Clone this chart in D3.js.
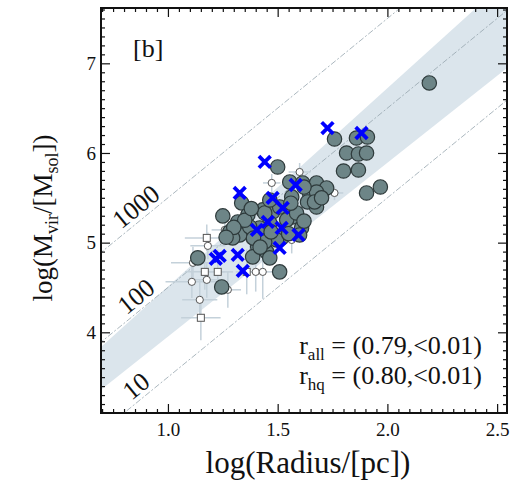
<!DOCTYPE html>
<html>
<head>
<meta charset="utf-8">
<script src="https://cdn.jsdelivr.net/npm/d3@7"></script>
<style>
body { margin: 0; background: #fff; }
text { font-family: "Liberation Serif", "Times New Roman", serif; fill: #111; }
</style>
</head>
<body>
<div id="chart"></div>
<script>
// clouds (all)
var grayPts = [
  [2.191,6.781],[1.759,6.156],[1.859,6.167],[1.909,6.178],[1.814,6.000],[1.868,5.989],
  [1.905,6.000],[1.800,5.799],[1.868,5.810],[1.905,5.554],[1.968,5.621],[1.500,5.844],
  [1.555,5.677],[1.614,5.666],[1.677,5.666],[1.723,5.610],[1.645,5.554],[1.677,5.565],
  [1.636,5.454],[1.677,5.398],[1.564,5.510],[1.568,5.287],[1.609,5.164],[1.336,5.443],
  [1.250,5.298],[1.318,5.231],[1.364,5.309],[1.432,5.365],[1.477,5.342],[1.464,5.220],
  [1.282,5.120],[1.327,5.086],[1.295,5.053],[1.405,5.142],[1.409,4.953],[1.450,4.897],
  [1.386,4.841],[1.464,4.830],[1.518,5.053],[1.600,5.086],[1.136,4.830],[1.509,4.674],
  [1.245,4.506],[1.668,5.454],[1.509,5.398],[1.441,5.331],[1.541,5.254],[1.418,5.164],
  [1.373,5.175],[1.495,5.030],[1.441,5.008],[1.586,5.331],[1.464,5.476],
  [1.350,5.250],[1.390,5.050],[1.300,5.170],[1.470,5.120],[1.560,5.440],[1.620,5.620],
  [1.700,5.500],[1.550,5.100],[1.420,4.950],[1.265,5.060],[1.380,5.380],[1.620,5.240]
];
// high quality subsample
var hqPts = [
  [1.727,6.278],[1.882,6.223],[1.441,5.900],[1.327,5.554],[1.582,5.643],[1.477,5.499],
  [1.523,5.387],[1.455,5.231],[1.405,5.142],[1.518,5.164],[1.595,5.086],[1.509,4.941],
  [1.236,4.852],[1.218,4.819],[1.318,4.864],[1.341,4.685]
];
// faint objects: x, y, xerr, yerr, shape
var faintPts = [
  [1.600,5.788,0.05,0.10,"c"],[1.473,5.666,0.04,0.10,"c"],[1.759,5.554,0.04,0.08,"c"],
  [1.177,5.053,0.10,0.15,"s"],[1.182,4.964,0.08,0.15,"c"],[1.259,5.142,0.06,0.12,"c"],
  [1.114,4.775,0.10,0.18,"c"],[1.168,4.674,0.09,0.20,"s"],[1.227,4.674,0.07,0.25,"s"],
  [1.177,4.585,0.08,0.20,"c"],[1.109,4.563,0.12,0.18,"c"],[1.145,4.362,0.08,0.22,"c"],
  [1.150,4.162,0.09,0.25,"s"],[1.273,4.474,0.06,0.20,"c"],[1.359,4.674,0.05,0.25,"s"],
  [1.400,4.674,0.05,0.22,"c"],[1.432,4.674,0.05,0.30,"c"],[1.564,5.030,0.05,0.15,"c"],
  [1.373,5.030,0.05,0.15,"c"]
];
var xTicks = [1.0, 1.5, 2.0, 2.5];
var yTicks = [4, 5, 6, 7];
// surface density lines: log M = b + 2 log R
var densLabels = ["1000", "100", "10"];
var densB = [3.5, 2.5, 1.5];
// fit band edges [intercept, slope]
var bandUpper = [2.297, 2.213];
var bandLower = [2.013, 1.939];

var width = 520, height = 482,
  L = 101, R = 507, T = 8, B = 413;

var svg = d3.select("#chart").append("svg")
  .attr("width", width).attr("height", height);

var x = d3.scaleLinear().domain([0.695, 2.545]).range([L, R]),
  y = d3.scaleLinear().domain([3.1, 7.617]).range([B, T]);

svg.append("clipPath").attr("id", "clip")
  .append("rect").attr("x", L).attr("y", T).attr("width", R - L).attr("height", B - T);

var plot = svg.append("g").attr("clip-path", "url(#clip)");

// band
var x0 = 0.6, x1 = 2.7;
var bandPoly = [
  [x0, bandUpper[0] + bandUpper[1] * x0], [x1, bandUpper[0] + bandUpper[1] * x1],
  [x1, bandLower[0] + bandLower[1] * x1], [x0, bandLower[0] + bandLower[1] * x0]
];
plot.append("path")
  .attr("d", "M" + bandPoly.map(function (p) { return x(p[0]) + "," + y(p[1]); }).join("L") + "Z")
  .attr("fill", "#dbe5ec");

// dashed lines
densB.forEach(function (b) {
  plot.append("line")
    .attr("x1", x(x0)).attr("y1", y(b + 2 * x0))
    .attr("x2", x(x1)).attr("y2", y(b + 2 * x1))
    .attr("stroke", "#95a4ad").attr("stroke-width", 0.8)
    .attr("stroke-dasharray", "6,2,2,2");
});

var ang = -Math.atan(2 * (y(0) - y(1)) / (x(1) - x(0))) * 180 / Math.PI;
densB.forEach(function (b, i) {
  var lx = x(0.855), ly = y(b + 2 * 0.855) - 17;
  svg.append("text")
    .attr("transform", "translate(" + lx + "," + ly + ") rotate(" + ang + ")")
    .attr("text-anchor", "middle").attr("dominant-baseline", "central")
    .style("font-size", "26px")
    .text(densLabels[i]);
});

// error bars
var eb = plot.append("g").attr("stroke", "#c4d1da").attr("stroke-width", 1.5);
faintPts.forEach(function (d) {
  eb.append("line").attr("x1", x(d[0] - d[2])).attr("x2", x(d[0] + d[2]))
    .attr("y1", y(d[1])).attr("y2", y(d[1]));
  eb.append("line").attr("x1", x(d[0])).attr("x2", x(d[0]))
    .attr("y1", y(d[1] - d[3])).attr("y2", y(d[1] + d[3]));
});

plot.selectAll(".faintc").data(faintPts.filter(function (d) { return d[4] == "c"; }))
  .enter().append("circle")
  .attr("cx", function (d) { return x(d[0]); })
  .attr("cy", function (d) { return y(d[1]); })
  .attr("r", 3.6)
  .attr("fill", "#fff").attr("stroke", "#555").attr("stroke-width", 1);

plot.selectAll(".faints").data(faintPts.filter(function (d) { return d[4] == "s"; }))
  .enter().append("rect")
  .attr("x", function (d) { return x(d[0]) - 3.5; })
  .attr("y", function (d) { return y(d[1]) - 3.5; })
  .attr("width", 7).attr("height", 7)
  .attr("fill", "#fff").attr("stroke", "#555").attr("stroke-width", 1);

plot.selectAll(".gray").data(grayPts)
  .enter().append("circle")
  .attr("cx", function (d) { return x(d[0]); })
  .attr("cy", function (d) { return y(d[1]); })
  .attr("r", 7.2)
  .attr("fill", "#6d8587").attr("stroke", "#2e3a3b").attr("stroke-width", 1.2);

var s = 5.8;
plot.selectAll(".hq").data(hqPts)
  .enter().append("path")
  .attr("d", function (d) {
    var cx = x(d[0]), cy = y(d[1]);
    return "M" + (cx - s) + "," + (cy - s) + "L" + (cx + s) + "," + (cy + s) +
      "M" + (cx - s) + "," + (cy + s) + "L" + (cx + s) + "," + (cy - s);
  })
  .attr("stroke", "#0000ff").attr("stroke-width", 3.8).attr("fill", "none");

// axes, ticks inward on all sides
function minorRange(a, b, step) {
  var out = [];
  for (var v = a; v <= b + 1e-9; v += step) out.push(+v.toFixed(3));
  return out;
}
var xMinor = minorRange(0.7, 2.5, 0.05).filter(function (v) { return xTicks.indexOf(v) < 0; });
var yMinor = minorRange(3.2, 7.6, 0.1).filter(function (v) { return yTicks.indexOf(v) < 0; });

function addAxis(axisFn, scale, pos, vals, size, labels, pad) {
  var g = svg.append("g").attr("transform", pos)
    .call(axisFn(scale).tickValues(vals).tickSize(-size).tickPadding(pad)
      .tickFormat(labels ? labels : function () { return ""; }));
  g.select(".domain").remove();
  g.selectAll("line").attr("stroke", "#111").attr("stroke-width", 1.2);
  return g;
}
var xa = addAxis(d3.axisBottom, x, "translate(0," + B + ")", xTicks, 9, d3.format(".1f"), 10);
addAxis(d3.axisBottom, x, "translate(0," + B + ")", xMinor, 4, null, 0);
addAxis(d3.axisTop, x, "translate(0," + T + ")", xTicks, 9, null, 0);
addAxis(d3.axisTop, x, "translate(0," + T + ")", xMinor, 4, null, 0);
var ya = addAxis(d3.axisLeft, y, "translate(" + L + ",0)", yTicks, 9, d3.format("d"), 5);
addAxis(d3.axisLeft, y, "translate(" + L + ",0)", yMinor, 4, null, 0);
addAxis(d3.axisRight, y, "translate(" + R + ",0)", yTicks, 9, null, 0);
addAxis(d3.axisRight, y, "translate(" + R + ",0)", yMinor, 4, null, 0);
xa.selectAll("text").style("font-size", "19px").style("font-family", "Liberation Serif").attr("fill", "#111");
ya.selectAll("text").style("font-size", "19px").style("font-family", "Liberation Serif").attr("fill", "#111");

svg.append("rect").attr("x", L).attr("y", T).attr("width", R - L).attr("height", B - T)
  .attr("fill", "none").attr("stroke", "#111").attr("stroke-width", 2);

// labels
svg.append("text").attr("x", 133).attr("y", 57).style("font-size", "26px").text("[b]");

svg.append("text").attr("x", 308).attr("y", 473).attr("text-anchor", "middle")
  .style("font-size", "31px").text("log(Radius/[pc])");

var yt = svg.append("text").attr("transform", "translate(52,218) rotate(-90)")
  .attr("text-anchor", "middle").style("font-size", "27px");
yt.append("tspan").text("log(M");
yt.append("tspan").attr("dy", 6).style("font-size", "18px").text("vir");
yt.append("tspan").attr("dy", -6).text("/[M");
yt.append("tspan").attr("dy", 6).style("font-size", "18px").text("sol");
yt.append("tspan").attr("dy", -6).text("])");

function stat(yy, sub, val) {
  var t = svg.append("text").attr("x", 482).attr("y", yy).attr("text-anchor", "end")
    .style("font-size", "26px");
  t.append("tspan").text("r");
  t.append("tspan").attr("dy", 6).style("font-size", "17px").text(sub);
  t.append("tspan").attr("dy", -6).text(" = " + val);
}
stat(354, "all", "(0.79,<0.01)");
stat(384, "hq", "(0.80,<0.01)");
</script>
</body>
</html>
